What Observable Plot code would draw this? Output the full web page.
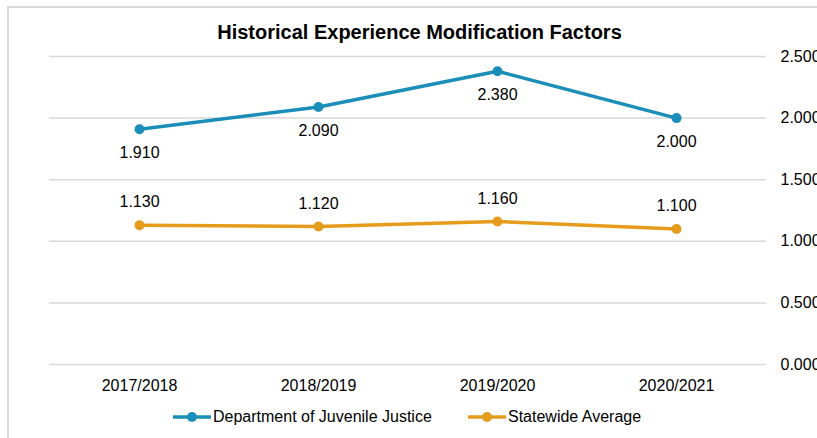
<!DOCTYPE html>
<html>
<head>
<meta charset="utf-8">
<script src="https://cdn.jsdelivr.net/npm/d3@7"></script>
<script src="https://cdn.jsdelivr.net/npm/@observablehq/plot@0.6"></script>
<style>
  html, body { margin: 0; padding: 0; background: #fff; overflow: hidden; }
  body { width: 817px; height: 438px; position: relative; font-family: "Liberation Sans", Arial, sans-serif; }
  #frame { position: absolute; left: 7px; top: 6px; width: 900px; height: 500px; border: 2px solid #d9d9d9; box-sizing: border-box; }
  #chart { position: absolute; left: 0; top: 0; }
  #title { position: absolute; left: 0; width: 839px; top: 22px; line-height: 1; text-align: center; font-weight: bold; font-size: 20px; color: #000; white-space: nowrap; }
  .leg { position: absolute; top: 408px; font-size: 16px; color: #000; display: flex; align-items: center; white-space: nowrap; }
</style>
</head>
<body>
<div id="frame"></div>
<div id="chart"></div>
<div id="title">Historical Experience Modification Factors</div>
<div id="legend"></div>
<script>
const periods = ["2017/2018", "2018/2019", "2019/2020", "2020/2021"];
const seriesNames = ["Department of Juvenile Justice", "Statewide Average"];
const djjValues = [1.910, 2.090, 2.380, 2.000];
const stateValues = [1.130, 1.120, 1.160, 1.100];
const yTicks = [0, 0.5, 1.0, 1.5, 2.0, 2.5];
const colors = ["#1a8db8", "#e59b1c"];

const data = [];
periods.forEach((p, i) => {
  data.push({period: p, series: seriesNames[0], value: djjValues[i]});
  data.push({period: p, series: seriesNames[1], value: stateValues[i]});
});
const djj = data.filter(d => d.series === seriesNames[0]);
const st = data.filter(d => d.series === seriesNames[1]);

const fmt = d3.format(".3f");

const chart = Plot.plot({
  width: 817,
  height: 438,
  marginLeft: 49,
  marginRight: 51,
  marginTop: 56,
  marginBottom: 74,
  style: {background: "transparent", fontFamily: "'Liberation Sans', Arial, sans-serif", fontSize: "16px", color: "#000"},
  x: {type: "point", domain: periods, padding: 0.5, label: null},
  y: {domain: [0, 2.5], ticks: yTicks, label: null},
  color: {domain: seriesNames, range: colors},
  marks: [
    Plot.gridY(yTicks, {stroke: "#d9d9d9", strokeOpacity: 1, strokeWidth: 1.5}),
    Plot.axisY({anchor: "right", ticks: yTicks, tickFormat: fmt, tickSize: 0, tickPadding: 14, label: null, fontSize: 16}),
    Plot.axisX({tickSize: 0, tickPadding: 15, label: null, fontSize: 16}),
    Plot.line(data, {x: "period", y: "value", z: "series", stroke: "series", strokeWidth: 3.5}),
    Plot.dot(data, {x: "period", y: "value", fill: "series", r: 5, stroke: null}),
    Plot.text(djj, {x: "period", y: "value", text: d => fmt(d.value), dy: 24, fontSize: 16, fill: "#000"}),
    Plot.text(st, {x: "period", y: "value", text: d => fmt(d.value), dy: -23, fontSize: 16, fill: "#000"})
  ]
});
document.getElementById("chart").appendChild(chart);

// Legend
const legend = document.getElementById("legend");
const legLefts = [173, 468];
seriesNames.forEach((name, i) => {
  const div = document.createElement("div");
  div.className = "leg";
  div.style.left = legLefts[i] + "px";
  div.innerHTML = `<svg width="38" height="18" style="margin-right:2px"><line x1="0" x2="38" y1="9" y2="9" stroke="${colors[i]}" stroke-width="3.5"/><circle cx="19" cy="9" r="5" fill="${colors[i]}"/></svg><span>${name}</span>`;
  legend.appendChild(div);
});
</script>
</body>
</html>
